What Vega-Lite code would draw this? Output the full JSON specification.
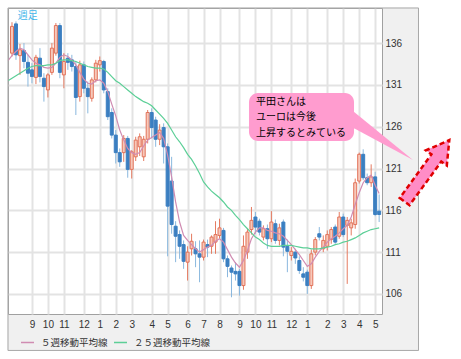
{
  "$schema": "https://vega.github.io/schema/vega-lite/v6.json",
  "width": 374,
  "height": 306,
  "autosize": {"type": "none"},
  "padding": {"left": 8, "top": 8, "right": 79, "bottom": 45},
  "background": "#f0f0f0",
  "config": {
    "view": {"fill": "white", "stroke": "#a0a0a0", "strokeWidth": 1},
    "axis": {"labelFont": "Liberation Sans", "labelFontSize": 10, "labelColor": "#333333", "gridColor": "#e3e3e3", "gridWidth": 2, "ticks": false, "domain": false}
  },
  "resolve": {"axis": {"x": "independent", "y": "independent"}},
  "datasets": {
    "candles": [
      {"date":"2009-08-03T00:00","open":134.8,"high":138.5,"low":134.4,"close":138.0},
      {"date":"2009-08-10T00:00","open":138.3,"high":138.6,"low":134.0,"close":134.6},
      {"date":"2009-08-17T00:00","open":134.5,"high":135.9,"low":132.2,"close":135.2},
      {"date":"2009-08-24T00:00","open":135.1,"high":136.0,"low":133.0,"close":133.8},
      {"date":"2009-08-31T00:00","open":133.7,"high":134.6,"low":130.8,"close":132.4},
      {"date":"2009-09-07T00:00","open":132.8,"high":133.6,"low":131.2,"close":132.0},
      {"date":"2009-09-14T00:00","open":131.9,"high":134.6,"low":131.1,"close":134.3},
      {"date":"2009-09-21T00:00","open":134.2,"high":135.4,"low":131.3,"close":132.0},
      {"date":"2009-09-28T00:00","open":131.8,"high":132.4,"low":129.0,"close":130.8},
      {"date":"2009-10-05T00:00","open":130.4,"high":132.4,"low":129.5,"close":132.2},
      {"date":"2009-10-12T00:00","open":132.5,"high":136.0,"low":132.2,"close":135.4},
      {"date":"2009-10-19T00:00","open":134.8,"high":138.4,"low":134.5,"close":138.1},
      {"date":"2009-10-26T00:00","open":138.1,"high":138.4,"low":131.8,"close":132.5},
      {"date":"2009-11-02T00:00","open":132.2,"high":134.8,"low":130.6,"close":133.8},
      {"date":"2009-11-09T00:00","open":134.2,"high":134.8,"low":132.8,"close":133.7},
      {"date":"2009-11-16T00:00","open":134.0,"high":134.6,"low":132.6,"close":133.2},
      {"date":"2009-11-23T00:00","open":133.2,"high":133.8,"low":127.4,"close":129.5},
      {"date":"2009-11-30T00:00","open":129.6,"high":133.9,"low":129.0,"close":133.4},
      {"date":"2009-12-07T00:00","open":133.4,"high":133.8,"low":130.0,"close":130.6},
      {"date":"2009-12-14T00:00","open":130.6,"high":131.4,"low":127.6,"close":129.6},
      {"date":"2009-12-21T00:00","open":129.4,"high":131.9,"low":129.0,"close":131.6},
      {"date":"2009-12-28T00:00","open":131.6,"high":134.0,"low":131.3,"close":133.6},
      {"date":"2010-01-04T00:00","open":133.4,"high":134.4,"low":132.6,"close":133.9},
      {"date":"2010-01-11T00:00","open":133.8,"high":134.0,"low":130.0,"close":130.4},
      {"date":"2010-01-18T00:00","open":130.2,"high":130.6,"low":126.8,"close":127.2},
      {"date":"2010-01-25T00:00","open":127.7,"high":128.2,"low":124.6,"close":125.0},
      {"date":"2010-02-01T00:00","open":125.0,"high":125.6,"low":121.6,"close":122.9},
      {"date":"2010-02-08T00:00","open":122.9,"high":123.4,"low":121.2,"close":121.8},
      {"date":"2010-02-15T00:00","open":122.9,"high":125.0,"low":121.8,"close":124.6},
      {"date":"2010-02-22T00:00","open":124.6,"high":124.9,"low":119.9,"close":120.9},
      {"date":"2010-03-01T00:00","open":120.9,"high":123.2,"low":119.8,"close":123.0},
      {"date":"2010-03-08T00:00","open":122.4,"high":124.8,"low":121.9,"close":124.4},
      {"date":"2010-03-15T00:00","open":123.6,"high":125.2,"low":122.5,"close":124.8},
      {"date":"2010-03-22T00:00","open":122.4,"high":124.9,"low":121.9,"close":124.5},
      {"date":"2010-03-29T00:00","open":124.5,"high":128.0,"low":124.0,"close":127.7},
      {"date":"2010-04-05T00:00","open":127.7,"high":128.2,"low":124.6,"close":125.9},
      {"date":"2010-04-12T00:00","open":126.8,"high":127.2,"low":123.6,"close":124.5},
      {"date":"2010-04-19T00:00","open":124.5,"high":126.3,"low":123.8,"close":125.6},
      {"date":"2010-04-26T00:00","open":125.9,"high":126.4,"low":121.6,"close":123.6},
      {"date":"2010-05-03T00:00","open":123.6,"high":124.0,"low":110.5,"close":116.5},
      {"date":"2010-05-10T00:00","open":119.5,"high":122.4,"low":113.2,"close":114.3},
      {"date":"2010-05-17T00:00","open":114.1,"high":114.7,"low":109.8,"close":112.9},
      {"date":"2010-05-24T00:00","open":113.1,"high":113.6,"low":110.2,"close":111.7},
      {"date":"2010-05-31T00:00","open":111.9,"high":112.4,"low":109.0,"close":109.9},
      {"date":"2010-06-07T00:00","open":109.8,"high":111.7,"low":107.6,"close":111.0},
      {"date":"2010-06-14T00:00","open":111.4,"high":113.2,"low":110.6,"close":112.3},
      {"date":"2010-06-21T00:00","open":111.4,"high":112.3,"low":109.2,"close":110.8},
      {"date":"2010-06-28T00:00","open":110.8,"high":112.4,"low":107.4,"close":110.4},
      {"date":"2010-07-05T00:00","open":110.4,"high":112.5,"low":110.0,"close":112.2},
      {"date":"2010-07-12T00:00","open":111.9,"high":112.5,"low":110.4,"close":111.6},
      {"date":"2010-07-19T00:00","open":111.7,"high":113.0,"low":110.8,"close":112.8},
      {"date":"2010-07-26T00:00","open":112.2,"high":114.7,"low":110.8,"close":113.1},
      {"date":"2010-08-02T00:00","open":113.0,"high":115.0,"low":112.6,"close":113.9},
      {"date":"2010-08-09T00:00","open":113.6,"high":113.9,"low":109.8,"close":110.2},
      {"date":"2010-08-16T00:00","open":110.2,"high":110.6,"low":108.0,"close":109.3},
      {"date":"2010-08-23T00:00","open":109.1,"high":109.4,"low":105.6,"close":108.6},
      {"date":"2010-08-30T00:00","open":108.7,"high":109.8,"low":107.6,"close":108.4},
      {"date":"2010-09-06T00:00","open":108.7,"high":109.0,"low":105.8,"close":107.0},
      {"date":"2010-09-13T00:00","open":107.0,"high":113.0,"low":106.5,"close":111.7},
      {"date":"2010-09-20T00:00","open":111.0,"high":113.8,"low":110.2,"close":113.4},
      {"date":"2010-09-27T00:00","open":113.7,"high":116.4,"low":113.1,"close":114.8},
      {"date":"2010-10-04T00:00","open":115.2,"high":115.8,"low":113.2,"close":114.0},
      {"date":"2010-10-11T00:00","open":114.7,"high":115.0,"low":113.0,"close":113.4},
      {"date":"2010-10-18T00:00","open":112.8,"high":114.2,"low":112.4,"close":113.8},
      {"date":"2010-10-25T00:00","open":113.8,"high":114.3,"low":111.4,"close":112.6},
      {"date":"2010-11-01T00:00","open":112.6,"high":115.9,"low":112.2,"close":114.6},
      {"date":"2010-11-08T00:00","open":114.4,"high":114.9,"low":112.0,"close":112.4},
      {"date":"2010-11-15T00:00","open":112.4,"high":114.4,"low":111.8,"close":113.9},
      {"date":"2010-11-22T00:00","open":114.6,"high":114.9,"low":110.5,"close":111.6},
      {"date":"2010-11-29T00:00","open":111.7,"high":112.5,"low":108.6,"close":111.1},
      {"date":"2010-12-06T00:00","open":110.6,"high":111.6,"low":110.0,"close":111.1},
      {"date":"2010-12-13T00:00","open":111.0,"high":111.4,"low":109.6,"close":110.3},
      {"date":"2010-12-20T00:00","open":110.0,"high":110.5,"low":108.4,"close":108.8},
      {"date":"2010-12-27T00:00","open":108.4,"high":109.2,"low":107.5,"close":108.0},
      {"date":"2011-01-03T00:00","open":108.6,"high":108.9,"low":106.0,"close":107.0},
      {"date":"2011-01-10T00:00","open":107.0,"high":111.3,"low":106.6,"close":110.8},
      {"date":"2011-01-17T00:00","open":111.0,"high":112.8,"low":110.6,"close":112.5},
      {"date":"2011-01-24T00:00","open":113.2,"high":114.0,"low":112.4,"close":112.8},
      {"date":"2011-01-31T00:00","open":111.4,"high":113.0,"low":111.0,"close":112.4},
      {"date":"2011-02-07T00:00","open":111.7,"high":113.6,"low":111.2,"close":113.1},
      {"date":"2011-02-14T00:00","open":112.5,"high":114.0,"low":112.0,"close":113.7},
      {"date":"2011-02-21T00:00","open":114.0,"high":114.3,"low":112.0,"close":112.2},
      {"date":"2011-02-28T00:00","open":112.9,"high":115.8,"low":112.6,"close":115.2},
      {"date":"2011-03-07T00:00","open":115.2,"high":115.6,"low":112.8,"close":113.1},
      {"date":"2011-03-14T00:00","open":114.2,"high":115.2,"low":107.2,"close":114.8},
      {"date":"2011-03-21T00:00","open":113.9,"high":115.0,"low":113.0,"close":114.5},
      {"date":"2011-03-28T00:00","open":114.3,"high":119.8,"low":113.8,"close":119.3},
      {"date":"2011-04-04T00:00","open":119.5,"high":122.9,"low":119.2,"close":122.7},
      {"date":"2011-04-11T00:00","open":122.7,"high":123.3,"low":119.6,"close":119.9},
      {"date":"2011-04-18T00:00","open":119.9,"high":120.4,"low":119.0,"close":119.3},
      {"date":"2011-04-25T00:00","open":119.3,"high":121.5,"low":118.8,"close":120.0},
      {"date":"2011-05-02T00:00","open":120.0,"high":120.6,"low":115.3,"close":115.5},
      {"date":"2011-05-09T00:00","open":115.9,"high":117.9,"low":114.6,"close":115.5}
    ],
    "ma": [
      {"date":"2009-07-27T00:00","ma5":133.9,"ma25":131.5},
      {"date":"2009-08-03T00:00","ma5":134.5,"ma25":131.8},
      {"date":"2009-08-10T00:00","ma5":135.0,"ma25":132.1},
      {"date":"2009-08-17T00:00","ma5":135.4,"ma25":132.4},
      {"date":"2009-08-24T00:00","ma5":135.2,"ma25":132.7},
      {"date":"2009-08-31T00:00","ma5":134.6,"ma25":133.0},
      {"date":"2009-09-07T00:00","ma5":134.0,"ma25":133.2},
      {"date":"2009-09-14T00:00","ma5":133.6,"ma25":133.3},
      {"date":"2009-09-21T00:00","ma5":133.4,"ma25":133.3},
      {"date":"2009-09-28T00:00","ma5":133.1,"ma25":133.3},
      {"date":"2009-10-05T00:00","ma5":133.0,"ma25":133.4},
      {"date":"2009-10-12T00:00","ma5":133.1,"ma25":133.4},
      {"date":"2009-10-19T00:00","ma5":133.6,"ma25":133.6},
      {"date":"2009-10-26T00:00","ma5":134.3,"ma25":133.9},
      {"date":"2009-11-02T00:00","ma5":134.6,"ma25":134.0},
      {"date":"2009-11-09T00:00","ma5":134.4,"ma25":134.0},
      {"date":"2009-11-16T00:00","ma5":134.0,"ma25":133.9},
      {"date":"2009-11-23T00:00","ma5":133.4,"ma25":133.8},
      {"date":"2009-11-30T00:00","ma5":132.5,"ma25":133.6},
      {"date":"2009-12-07T00:00","ma5":131.7,"ma25":133.4},
      {"date":"2009-12-14T00:00","ma5":131.2,"ma25":133.2},
      {"date":"2009-12-21T00:00","ma5":131.1,"ma25":133.1},
      {"date":"2009-12-28T00:00","ma5":131.5,"ma25":133.0},
      {"date":"2010-01-04T00:00","ma5":131.6,"ma25":133.0},
      {"date":"2010-01-11T00:00","ma5":131.2,"ma25":132.9},
      {"date":"2010-01-18T00:00","ma5":130.2,"ma25":132.5},
      {"date":"2010-01-25T00:00","ma5":128.7,"ma25":132.0},
      {"date":"2010-02-01T00:00","ma5":127.3,"ma25":131.5},
      {"date":"2010-02-08T00:00","ma5":125.6,"ma25":131.2},
      {"date":"2010-02-15T00:00","ma5":124.4,"ma25":130.8},
      {"date":"2010-02-22T00:00","ma5":123.4,"ma25":130.4},
      {"date":"2010-03-01T00:00","ma5":122.9,"ma25":130.0},
      {"date":"2010-03-08T00:00","ma5":122.7,"ma25":129.6},
      {"date":"2010-03-15T00:00","ma5":122.9,"ma25":129.3},
      {"date":"2010-03-22T00:00","ma5":123.7,"ma25":129.0},
      {"date":"2010-03-29T00:00","ma5":124.4,"ma25":128.8},
      {"date":"2010-04-05T00:00","ma5":124.7,"ma25":128.5},
      {"date":"2010-04-12T00:00","ma5":125.0,"ma25":128.0},
      {"date":"2010-04-19T00:00","ma5":125.3,"ma25":127.5},
      {"date":"2010-04-26T00:00","ma5":124.6,"ma25":127.0},
      {"date":"2010-05-03T00:00","ma5":122.6,"ma25":126.4},
      {"date":"2010-05-10T00:00","ma5":120.0,"ma25":125.6},
      {"date":"2010-05-17T00:00","ma5":117.0,"ma25":124.8},
      {"date":"2010-05-24T00:00","ma5":114.6,"ma25":124.2},
      {"date":"2010-05-31T00:00","ma5":113.0,"ma25":123.5},
      {"date":"2010-06-07T00:00","ma5":112.4,"ma25":122.7},
      {"date":"2010-06-14T00:00","ma5":111.9,"ma25":122.1},
      {"date":"2010-06-21T00:00","ma5":111.4,"ma25":121.3},
      {"date":"2010-06-28T00:00","ma5":111.0,"ma25":120.4},
      {"date":"2010-07-05T00:00","ma5":111.3,"ma25":119.4},
      {"date":"2010-07-12T00:00","ma5":111.6,"ma25":118.8},
      {"date":"2010-07-19T00:00","ma5":111.8,"ma25":118.3},
      {"date":"2010-07-26T00:00","ma5":112.3,"ma25":117.9},
      {"date":"2010-08-02T00:00","ma5":112.6,"ma25":117.5},
      {"date":"2010-08-09T00:00","ma5":112.2,"ma25":117.0},
      {"date":"2010-08-16T00:00","ma5":111.3,"ma25":116.4},
      {"date":"2010-08-23T00:00","ma5":110.4,"ma25":116.0},
      {"date":"2010-08-30T00:00","ma5":109.7,"ma25":115.4},
      {"date":"2010-09-06T00:00","ma5":109.2,"ma25":114.9},
      {"date":"2010-09-13T00:00","ma5":110.0,"ma25":114.3},
      {"date":"2010-09-20T00:00","ma5":111.2,"ma25":113.8},
      {"date":"2010-09-27T00:00","ma5":112.6,"ma25":113.3},
      {"date":"2010-10-04T00:00","ma5":113.4,"ma25":112.8},
      {"date":"2010-10-11T00:00","ma5":113.9,"ma25":112.5},
      {"date":"2010-10-18T00:00","ma5":113.9,"ma25":112.1},
      {"date":"2010-10-25T00:00","ma5":113.6,"ma25":111.8},
      {"date":"2010-11-01T00:00","ma5":113.5,"ma25":111.7},
      {"date":"2010-11-08T00:00","ma5":113.3,"ma25":111.7},
      {"date":"2010-11-15T00:00","ma5":113.2,"ma25":111.7},
      {"date":"2010-11-22T00:00","ma5":112.9,"ma25":111.8},
      {"date":"2010-11-29T00:00","ma5":112.4,"ma25":111.8},
      {"date":"2010-12-06T00:00","ma5":111.9,"ma25":111.8},
      {"date":"2010-12-13T00:00","ma5":111.3,"ma25":111.7},
      {"date":"2010-12-20T00:00","ma5":110.7,"ma25":111.6},
      {"date":"2010-12-27T00:00","ma5":110.0,"ma25":111.5},
      {"date":"2011-01-03T00:00","ma5":109.3,"ma25":111.5},
      {"date":"2011-01-10T00:00","ma5":109.6,"ma25":111.4},
      {"date":"2011-01-17T00:00","ma5":110.4,"ma25":111.4},
      {"date":"2011-01-24T00:00","ma5":111.1,"ma25":111.4},
      {"date":"2011-01-31T00:00","ma5":111.6,"ma25":111.5},
      {"date":"2011-02-07T00:00","ma5":112.2,"ma25":111.6},
      {"date":"2011-02-14T00:00","ma5":112.6,"ma25":111.7},
      {"date":"2011-02-21T00:00","ma5":112.9,"ma25":111.9},
      {"date":"2011-02-28T00:00","ma5":113.3,"ma25":112.0},
      {"date":"2011-03-07T00:00","ma5":113.8,"ma25":112.2},
      {"date":"2011-03-14T00:00","ma5":114.2,"ma25":112.3},
      {"date":"2011-03-21T00:00","ma5":115.2,"ma25":112.5},
      {"date":"2011-03-28T00:00","ma5":116.7,"ma25":112.7},
      {"date":"2011-04-04T00:00","ma5":118.1,"ma25":113.0},
      {"date":"2011-04-11T00:00","ma5":119.3,"ma25":113.3},
      {"date":"2011-04-18T00:00","ma5":119.9,"ma25":113.5},
      {"date":"2011-04-25T00:00","ma5":120.2,"ma25":113.7},
      {"date":"2011-05-02T00:00","ma5":119.0,"ma25":113.8},
      {"date":"2011-05-09T00:00","ma5":118.0,"ma25":113.9}
    ]
  },
  "layer": [
    {
      "data": {"name": "candles"},
      "mark": {"type": "rule", "strokeWidth": 1},
      "encoding": {
        "x": {
          "field": "date", "type": "temporal",
          "scale": {"domain": [{"year": 2009, "month": 7, "date": 27}, {"year": 2011, "month": 5, "date": 14}], "padding": 0, "nice": false},
          "axis": {
            "orient": "bottom", "title": null, "format": "%-m", "grid": true, "labelPadding": 5, "labelOverlap": false,
            "values": [
              {"year": 2009, "month": 9, "date": 7}, {"year": 2009, "month": 10, "date": 5},
              {"year": 2009, "month": 11, "date": 2}, {"year": 2009, "month": 12, "date": 7},
              {"year": 2010, "month": 1, "date": 4}, {"year": 2010, "month": 2, "date": 1},
              {"year": 2010, "month": 3, "date": 1}, {"year": 2010, "month": 4, "date": 5},
              {"year": 2010, "month": 5, "date": 3}, {"year": 2010, "month": 6, "date": 7},
              {"year": 2010, "month": 7, "date": 5}, {"year": 2010, "month": 8, "date": 2},
              {"year": 2010, "month": 9, "date": 6}, {"year": 2010, "month": 10, "date": 4},
              {"year": 2010, "month": 11, "date": 1}, {"year": 2010, "month": 12, "date": 6},
              {"year": 2011, "month": 1, "date": 3}, {"year": 2011, "month": 2, "date": 7},
              {"year": 2011, "month": 3, "date": 7}, {"year": 2011, "month": 4, "date": 4},
              {"year": 2011, "month": 5, "date": 2}
            ]
          }
        },
        "y": {
          "field": "low", "type": "quantitative",
          "scale": {"domain": [103.6, 140.2], "nice": false, "zero": false},
          "axis": {"orient": "right", "title": null, "values": [106, 111, 116, 121, 126, 131, 136], "grid": true, "labelPadding": 3}
        },
        "y2": {"field": "high"},
        "color": {"condition": {"test": "datum.close >= datum.open", "value": "#e57a60"}, "value": "#8ab8de"}
      }
    },
    {
      "data": {"name": "candles"},
      "mark": {"type": "bar", "size": 3, "strokeWidth": 1},
      "encoding": {
        "x": {"field": "date", "type": "temporal", "axis": null},
        "y": {"field": "open", "type": "quantitative", "axis": null},
        "y2": {"field": "close"},
        "fill": {"condition": {"test": "datum.close >= datum.open", "value": "#f7c8ba"}, "value": "#3b7fc1"},
        "stroke": {"condition": {"test": "datum.close >= datum.open", "value": "#e2735a"}, "value": "#3b7fc1"}
      }
    },
    {
      "data": {"name": "ma"},
      "transform": [{"fold": ["ma5", "ma25"], "as": ["series", "value"]}],
      "mark": {"type": "line", "strokeWidth": 1.2},
      "encoding": {
        "x": {"field": "date", "type": "temporal", "axis": null},
        "y": {"field": "value", "type": "quantitative", "axis": null},
        "color": {
          "field": "series", "type": "nominal",
          "scale": {"domain": ["ma5", "ma25"], "range": ["#d08cb2", "#5ccf97"]},
          "legend": {
            "orient": "none", "legendX": 12, "legendY": 327, "direction": "horizontal", "title": null,
            "symbolType": "stroke", "symbolSize": 169, "symbolStrokeWidth": 1.5,
            "labelFont": "Noto Sans CJK JP", "labelFontSize": 9.5, "labelColor": "#333333",
            "labelOffset": 6, "columnPadding": 3, "padding": 0,
            "labelExpr": "datum.label == 'ma5' ? '５週移動平均線' : '２５週移動平均線'"
          }
        }
      }
    },
    {
      "data": {"values": [{}]},
      "mark": {"type": "rect", "fill": "white"},
      "encoding": {
        "x": {"datum": {"year": 2011, "month": 7, "date": 18}, "type": "temporal", "axis": null},
        "x2": {"datum": {"year": 2012, "month": 1, "date": 1}},
        "y": {"datum": 80, "type": "quantitative", "axis": null},
        "y2": {"datum": 150}
      }
    },
    {
      "data": {"values": [{}]},
      "mark": {"type": "rect", "fill": "white"},
      "encoding": {
        "x": {"datum": {"year": 2009, "month": 6, "date": 1}, "type": "temporal", "axis": null},
        "x2": {"datum": {"year": 2012, "month": 1, "date": 1}},
        "y": {"datum": 80, "type": "quantitative", "axis": null},
        "y2": {"datum": 99.18}
      }
    },
    {
      "data": {"values": [{}]},
      "mark": {"type": "rect", "fill": "white"},
      "encoding": {
        "x": {"datum": {"year": 2009, "month": 6, "date": 1}, "type": "temporal", "axis": null},
        "x2": {"datum": {"year": 2009, "month": 7, "date": 26, "hours": 3}},
        "y": {"datum": 80, "type": "quantitative", "axis": null},
        "y2": {"datum": 150}
      }
    },
    {
      "data": {"values": [{}]},
      "mark": {"type": "rect", "fill": "white"},
      "encoding": {
        "x": {"datum": {"year": 2009, "month": 6, "date": 1}, "type": "temporal", "axis": null},
        "x2": {"datum": {"year": 2012, "month": 1, "date": 1}},
        "y": {"datum": 140.26, "type": "quantitative", "axis": null},
        "y2": {"datum": 150}
      }
    },
    {
      "data": {"values": [{}]},
      "mark": {"type": "rect", "fill": "transparent", "stroke": "#a8a8a8", "strokeWidth": 1},
      "encoding": {
        "x": {"datum": {"year": 2009, "month": 7, "date": 27}, "type": "temporal", "axis": null},
        "x2": {"datum": {"year": 2011, "month": 7, "date": 17}},
        "y": {"datum": 99.24, "type": "quantitative", "axis": null},
        "y2": {"datum": 140.2}
      }
    },
    {
      "data": {"values": [{}]},
      "mark": {"type": "text", "text": "週足", "font": "Noto Sans CJK JP", "fontSize": 10, "color": "#3fb6ea", "align": "left", "baseline": "middle"},
      "encoding": {
        "x": {"datum": {"year": 2009, "month": 8, "date": 13}, "type": "temporal", "axis": null},
        "y": {"datum": 139.3, "type": "quantitative", "axis": null}
      }
    },
    {
      "data": {"values": [{}]},
      "mark": {"type": "rect", "fill": "#ff9ccf", "cornerRadius": 9},
      "encoding": {
        "x": {"datum": {"year": 2010, "month": 9, "date": 22, "hours": 17}, "type": "temporal", "axis": null},
        "x2": {"datum": {"year": 2011, "month": 3, "date": 25, "hours": 22}},
        "y": {"datum": 130.04, "type": "quantitative", "axis": null},
        "y2": {"datum": 124.3}
      }
    },
    {
      "data": {"values": [{}]},
      "mark": {"type": "point", "shape": "M -0.8 -0.75 L 0.825 0.575 L -0.8 -0.3 Z", "size": 6400, "filled": true, "fill": "#ff9ccf", "strokeWidth": 0, "opacity": 1},
      "encoding": {
        "x": {"datum": {"year": 2011, "month": 5, "date": 10, "hours": 12}, "type": "temporal", "axis": null},
        "y": {"datum": 124.78, "type": "quantitative", "axis": null}
      }
    },
    {
      "data": {"values": [{}]},
      "mark": {"type": "text", "text": ["平田さんは", "ユーロは今後", "上昇するとみている"], "font": "Noto Sans CJK JP", "fontSize": 10, "lineHeight": 15.5, "color": "#000000", "align": "left", "baseline": "middle"},
      "encoding": {
        "x": {"datum": {"year": 2010, "month": 10, "date": 5}, "type": "temporal", "axis": null},
        "y": {"datum": 128.97, "type": "quantitative", "axis": null}
      }
    },
    {
      "data": {"values": [{}]},
      "mark": {"type": "point", "shape": "M -0.16 1 L 0.16 1 L 0.16 -0.42 L 0.34 -0.42 L 0 -1 L -0.34 -0.42 L -0.16 -0.42 Z", "size": 5776, "angle": 36, "filled": true, "fill": "#ff8cc6", "stroke": "#e00000", "strokeWidth": 2.5, "strokeDash": [5, 3], "opacity": 1},
      "encoding": {
        "x": {"datum": {"year": 2011, "month": 7, "date": 31, "hours": 21}, "type": "temporal", "axis": null},
        "y": {"datum": 120.72, "type": "quantitative", "axis": null}
      }
    }
  ]
}
